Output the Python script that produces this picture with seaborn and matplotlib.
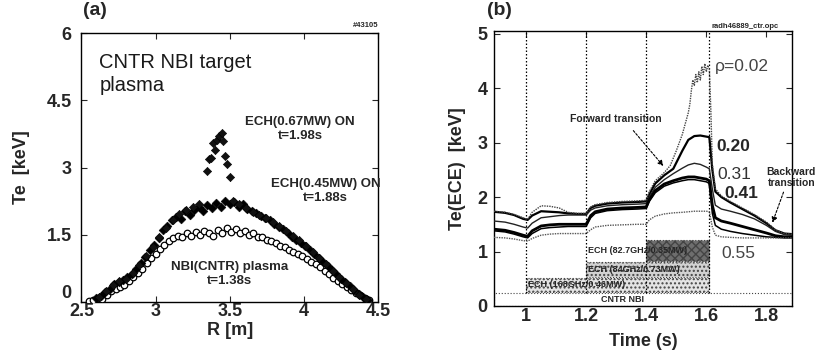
import matplotlib
matplotlib.use("Agg")
import matplotlib.pyplot as plt
import seaborn as sns

sns.set_style("ticks")
plt.rcParams["font.family"] = ["Liberation Sans", "DejaVu Sans"]

# ---------------- (a) electron temperature profiles ----------------
r_nbi = [2.55, 2.58, 2.61, 2.64, 2.67, 2.70, 2.73, 2.76, 2.79, 2.82, 2.85, 2.88, 2.91, 2.94, 2.97, 3.00,
         3.03, 3.06, 3.09, 3.12, 3.15, 3.18, 3.21, 3.24, 3.27, 3.30, 3.33, 3.36, 3.39, 3.42, 3.45, 3.48,
         3.51, 3.54, 3.57, 3.60, 3.63, 3.66, 3.69, 3.72, 3.75, 3.78, 3.81, 3.84, 3.87, 3.90, 3.93, 3.96,
         3.99, 4.02, 4.05, 4.08, 4.11, 4.14, 4.17, 4.20, 4.23, 4.26, 4.29, 4.32, 4.35, 4.38, 4.41, 4.44]
te_nbi = [0.03, 0.05, 0.08, 0.06, 0.15, 0.24, 0.28, 0.34, 0.38, 0.46, 0.55, 0.64, 0.74, 0.86, 0.98, 1.08,
          1.18, 1.28, 1.35, 1.42, 1.48, 1.44, 1.53, 1.47, 1.56, 1.49, 1.58, 1.53, 1.47, 1.60, 1.55, 1.64,
          1.57, 1.62, 1.54, 1.58, 1.50, 1.54, 1.45, 1.44, 1.39, 1.35, 1.31, 1.26, 1.22, 1.17, 1.12, 1.07,
          1.02, 0.97, 0.90, 0.84, 0.77, 0.70, 0.62, 0.54, 0.47, 0.40, 0.34, 0.27, 0.21, 0.15, 0.09, 0.04]

r_ech45 = [2.60, 2.63, 2.66, 2.69, 2.72, 2.75, 2.78, 2.81, 2.84, 2.87, 2.90, 2.93, 2.96, 2.99, 3.02, 3.05,
           3.08, 3.11, 3.14, 3.17, 3.20, 3.23, 3.26, 3.29, 3.32, 3.35, 3.38, 3.41, 3.44, 3.47, 3.50, 3.53,
           3.56, 3.59, 3.62, 3.65, 3.68, 3.71, 3.74, 3.77, 3.80, 3.83, 3.86, 3.89, 3.92, 3.95, 3.98, 4.01,
           4.04, 4.07, 4.10, 4.13, 4.16, 4.19, 4.22, 4.25, 4.28, 4.31, 4.34, 4.37, 4.40, 4.43]
te_ech45 = [0.08, 0.14, 0.22, 0.30, 0.40, 0.44, 0.50, 0.56, 0.62, 0.74, 0.88, 1.00, 1.15, 1.28, 1.42, 1.60,
            1.70, 1.82, 1.90, 1.86, 2.02, 1.95, 2.06, 2.12, 2.04, 2.16, 2.10, 2.20, 2.12, 2.25, 2.18, 2.22,
            2.12, 2.18, 2.08, 2.02, 1.98, 1.92, 1.88, 1.82, 1.75, 1.68, 1.62, 1.54, 1.46, 1.38, 1.32, 1.25,
            1.16, 1.07, 0.98, 0.89, 0.80, 0.71, 0.62, 0.52, 0.44, 0.36, 0.27, 0.18, 0.12, 0.05]

r_ech67 = [2.62, 2.665, 2.71, 2.755, 2.80, 2.845, 2.89, 2.935, 2.98, 3.025, 3.07, 3.115, 3.16, 3.205, 3.25, 3.295,
           3.345, 3.36, 3.375, 3.385, 3.40, 3.415, 3.43, 3.445, 3.455, 3.47, 3.485, 3.50,
           3.52, 3.565, 3.61, 3.655, 3.70, 3.745, 3.79, 3.835, 3.88, 3.925, 3.97, 4.015, 4.06, 4.105,
           4.15, 4.195, 4.24, 4.285, 4.33, 4.375, 4.42]
te_ech67 = [0.12, 0.25, 0.38, 0.46, 0.52, 0.64, 0.82, 1.02, 1.22, 1.45, 1.66, 1.84, 1.96, 2.05, 2.12, 2.18,
            2.93, 3.18, 3.22, 3.55, 3.40, 3.62, 3.70, 3.76, 3.60, 3.25, 3.08, 2.78,
            2.25, 2.18, 2.10, 2.00, 1.95, 1.88, 1.78, 1.70, 1.58, 1.48, 1.38, 1.26, 1.12, 0.98,
            0.84, 0.70, 0.55, 0.42, 0.28, 0.16, 0.06]

a_xticks = [2.5, 3.0, 3.5, 4.0, 4.5]
a_xticklabels = ["2.5", "3", "3.5", "4", "4.5"]
a_yticks = [0, 1.5, 3, 4.5, 6]
a_yticklabels = ["0", "1.5", "3", "4.5", "6"]

# ---------------- (b) ECE time traces ----------------
t_core = [0.893, 0.93, 0.96, 0.99, 1.005, 1.02, 1.05, 1.08, 1.11, 1.14, 1.17, 1.2, 1.215, 1.23, 1.27, 1.32,
          1.37, 1.4, 1.41, 1.43, 1.46, 1.48, 1.50, 1.52, 1.53, 1.54, 1.545, 1.55, 1.555, 1.56, 1.565, 1.57,
          1.575, 1.58, 1.585, 1.59, 1.595, 1.60, 1.605, 1.61, 1.615, 1.62, 1.63, 1.65, 1.68, 1.72, 1.76,
          1.8, 1.83, 1.86, 1.885]
te_rho002 = [1.74, 1.72, 1.68, 1.62, 1.59, 1.72, 1.84, 1.83, 1.80, 1.72, 1.70, 1.70, 1.82, 1.86, 1.90, 1.92,
             1.93, 1.94, 2.10, 2.30, 2.45, 2.58, 2.85, 3.15, 3.35, 3.55, 3.70, 3.95, 4.15, 4.05, 4.25, 4.10,
             4.30, 4.15, 4.40, 4.25, 4.45, 4.30, 4.42, 4.35, 3.60, 2.60, 2.15, 2.02, 1.92, 1.80, 1.68,
             1.54, 1.40, 1.33, 1.32]

t_ece = [0.893, 0.93, 0.96, 0.99, 1.005, 1.02, 1.05, 1.08, 1.11, 1.14, 1.17, 1.2, 1.215, 1.23, 1.27, 1.32,
         1.37, 1.4, 1.41, 1.43, 1.46, 1.49, 1.52, 1.54, 1.56, 1.58, 1.6, 1.61, 1.62, 1.63, 1.65, 1.68,
         1.72, 1.76, 1.8, 1.83, 1.86, 1.885]
te_rho020 = [1.73, 1.71, 1.67, 1.60, 1.58, 1.66, 1.74, 1.73, 1.72, 1.70, 1.69, 1.69, 1.80, 1.84, 1.88, 1.90,
             1.91, 1.92, 2.05, 2.25, 2.40, 2.52, 2.85, 3.05, 3.12, 3.13, 3.11, 3.10, 2.50, 2.10, 2.00, 1.90,
             1.78, 1.66, 1.52, 1.39, 1.33, 1.32]
te_rho031 = [1.56, 1.54, 1.50, 1.45, 1.43, 1.52, 1.62, 1.64, 1.66, 1.67, 1.67, 1.67, 1.76, 1.80, 1.84, 1.86,
             1.87, 1.88, 2.00, 2.18, 2.32, 2.43, 2.53, 2.59, 2.62, 2.60, 2.55, 2.52, 2.15, 1.85, 1.78, 1.74,
             1.68, 1.60, 1.48, 1.37, 1.31, 1.30]
te_rho041 = [1.41, 1.39, 1.35, 1.30, 1.28, 1.38, 1.47, 1.49, 1.50, 1.50, 1.50, 1.50, 1.66, 1.73, 1.78, 1.80,
             1.81, 1.82, 1.95, 2.12, 2.24, 2.30, 2.35, 2.37, 2.37, 2.35, 2.33, 2.30, 1.85, 1.62, 1.56, 1.52,
             1.46, 1.40, 1.34, 1.29, 1.27, 1.27]
te_rho048 = [1.38, 1.36, 1.32, 1.27, 1.25, 1.33, 1.42, 1.44, 1.45, 1.46, 1.46, 1.46, 1.62, 1.70, 1.75, 1.77,
             1.78, 1.79, 1.92, 2.08, 2.20, 2.26, 2.30, 2.32, 2.32, 2.30, 2.28, 2.25, 1.70, 1.48, 1.41, 1.37,
             1.33, 1.30, 1.27, 1.26, 1.25, 1.25]
te_rho055 = [1.26, 1.25, 1.23, 1.20, 1.19, 1.24, 1.30, 1.32, 1.33, 1.33, 1.33, 1.33, 1.40, 1.45, 1.48, 1.49,
             1.50, 1.50, 1.58, 1.65, 1.69, 1.71, 1.72, 1.73, 1.74, 1.74, 1.74, 1.73, 1.45, 1.30, 1.27, 1.26,
             1.25, 1.25, 1.25, 1.25, 1.25, 1.25]

heating_labels = ["CNTR NBI", "ECH (168GHz/0.46MW)", "ECH (84GHz/0.73MW)", "ECH (82.7GHz/0.35MW)"]
heating_start = [0.893, 1.0, 1.2, 1.4]
heating_end = [1.885, 1.61, 1.61, 1.61]
phase_times = [1.0, 1.2, 1.4, 1.61]

b_xticks = [1.0, 1.2, 1.4, 1.6, 1.8]
b_xticklabels = ["1", "1.2", "1.4", "1.6", "1.8"]
b_yticks = [0, 1, 2, 3, 4, 5]
b_yticklabels = ["0", "1", "2", "3", "4", "5"]

# ---------------- figure ----------------
fig = plt.figure(figsize=(8.27, 3.58), dpi=100)
axA = fig.add_axes([0.0985, 0.1564, 0.3585, 0.7514])
axB = fig.add_axes([0.5973, 0.1453, 0.3603, 0.7682])

tick_font = dict(fontsize=13, fontweight="bold")
label_font = dict(fontsize=13, fontweight="bold")
note_col = "#262626"

# profiles
sns.scatterplot(x=r_nbi, y=te_nbi, ax=axA, marker="o", s=22, facecolor="white",
                edgecolor="black", linewidth=0.9, zorder=3)
sns.scatterplot(x=r_ech45, y=te_ech45, ax=axA, marker="D", s=20, color="black",
                edgecolor="black", linewidth=0.4, zorder=4)
axA.errorbar(r_ech67, te_ech67, yerr=0.07, fmt="none", ecolor="#333333", elinewidth=0.6, zorder=4)
sns.scatterplot(x=r_ech67, y=te_ech67, ax=axA, marker="D", s=18, color="#111111",
                edgecolor="black", linewidth=0.4, zorder=5)

axA.set_xlim(2.5, 4.5)
axA.set_ylim(0, 6)
axA.set_xticks(a_xticks)
axA.set_xticklabels(a_xticklabels, **tick_font)
axA.set_yticks(a_yticks)
axA.set_yticklabels(a_yticklabels, **tick_font)
axA.tick_params(axis="both", direction="in", top=True, right=True, length=4, width=0.8)
axA.tick_params(axis="x", pad=0.5)
axA.tick_params(axis="y", pad=7)
# the zero label sits just above the corner so it clears the first R label
axA.get_yticklabels()[0].set_verticalalignment("bottom")
axA.set_xlabel("R [m]", labelpad=2, **label_font)
axA.set_ylabel("Te  [keV]", labelpad=12, **label_font)

axA.text(2.62, 5.55, "CNTR NBI target\nplasma", ha="left", va="top", fontsize=14.5,
         linespacing=1.25, color="#1a1a1a")
axA.text(3.975, 3.85, "ECH(0.67MW) ON\nt=1.98s", ha="center", va="center", fontsize=9.5,
         fontweight="bold", color=note_col, linespacing=1.2)
axA.text(4.145, 2.48, "ECH(0.45MW) ON\nt=1.88s", ha="center", va="center", fontsize=9.5,
         fontweight="bold", color=note_col, linespacing=1.2, clip_on=False)
axA.text(3.497, 0.62, "NBI(CNTR) plasma\nt=1.38s", ha="center", va="center", fontsize=9.5,
         fontweight="bold", color=note_col, linespacing=1.2)
axA.text(1.0, 1.015, "#43105", transform=axA.transAxes, ha="right", va="bottom",
         fontsize=5.5, fontweight="bold")

# heating bars
bar_y = [0.12, 0.39, 0.67, 1.02]
bar_h = [0.24, 0.26, 0.26, 0.40]
bar_face = ["white", "#e4e4e4", "#d2d2d2", "#6e6e6e"]
bar_hatch = [None, "....", "....", "xxxx"]
for lab, t0, t1, yc, h, fc, ht in zip(heating_labels, heating_start, heating_end,
                                      bar_y, bar_h, bar_face, bar_hatch):
    axB.barh(yc, t1 - t0, left=t0, height=h, color=fc, edgecolor="#444444",
             linewidth=0.8, linestyle=":", hatch=ht, zorder=1)
axB.text(1.32, 0.12, heating_labels[0], ha="center", va="center", fontsize=6.5, fontweight="bold")
axB.text(1.005, 0.39, heating_labels[1], ha="left", va="center", fontsize=6.5, fontweight="bold")
axB.text(1.205, 0.67, heating_labels[2], ha="left", va="center", fontsize=6.5, fontweight="bold")
axB.text(1.205, 1.02, heating_labels[3], ha="left", va="center", fontsize=6.5, fontweight="bold")

axB.vlines(phase_times, 0.24, 5.05, colors="black", linestyles=(0, (1.2, 1.6)), linewidth=0.9, zorder=2)

# ECE traces
trace_style = [
    (t_ece, te_rho020, "black", 1.6, "-"),
    (t_ece, te_rho031, "#222222", 1.0, "-"),
    (t_ece, te_rho041, "black", 2.0, "-"),
    (t_ece, te_rho048, "black", 1.1, "-"),
    (t_ece, te_rho055, "#555555", 1.0, (0, (1, 0.8))),
    (t_core, te_rho002, "#444444", 1.0, (0, (1, 0.8))),
]
for tt, yy, col, lw, ls in trace_style:
    sns.lineplot(x=tt, y=yy, ax=axB, color=col, linewidth=lw, linestyle=ls,
                 estimator=None, sort=False, zorder=3)

axB.set_xlim(0.893, 1.885)
axB.set_ylim(0, 5.05)
axB.set_xticks(b_xticks)
axB.set_xticklabels(b_xticklabels, **tick_font)
axB.set_yticks(b_yticks)
axB.set_yticklabels(b_yticklabels, **tick_font)
axB.tick_params(axis="both", direction="in", top=True, right=True, length=4, width=0.8)
axB.tick_params(axis="x", pad=1.5)
axB.tick_params(axis="y", pad=4.5)
axB.set_xlabel("Time (s)", labelpad=6, **label_font)
axB.set_ylabel("Te(ECE)  [keV]", labelpad=8, **label_font)

axB.text(1.628, 4.40, "\u03c1=0.02", ha="left", va="center", fontsize=12.5, color="#444444")
axB.text(1.635, 2.93, "0.20", ha="left", va="center", fontsize=12.5, fontweight="bold")
axB.text(1.638, 2.42, "0.31", ha="left", va="center", fontsize=12.5, color="#333333")
axB.text(1.661, 2.06, "0.41", ha="left", va="center", fontsize=12.5, fontweight="bold")
axB.text(1.651, 0.97, "0.55", ha="left", va="center", fontsize=12.5, color="#444444")

axB.text(1.297, 3.43, "Forward transition", ha="center", va="center", fontsize=7.5, fontweight="bold")
axB.annotate("", xy=(1.457, 2.57), xytext=(1.357, 3.22),
             arrowprops=dict(arrowstyle="-|>", color="black", lw=0.8, linestyle=(0, (2, 1.5)),
                             mutation_scale=8, shrinkA=0, shrinkB=0))
axB.text(1.883, 2.36, "Backward\ntransition", ha="center", va="center", fontsize=7.5,
         fontweight="bold", linespacing=1.1, clip_on=False)
axB.annotate("", xy=(1.82, 1.53), xytext=(1.857, 2.09),
             arrowprops=dict(arrowstyle="-|>", color="black", lw=0.8, linestyle=(0, (2, 1.5)),
                             mutation_scale=8, shrinkA=0, shrinkB=0))
axB.text(0.842, 1.005, "radh46889_ctr.opc", transform=axB.transAxes, ha="center", va="bottom",
         fontsize=5.5, fontweight="bold")

for ax in (axA, axB):
    for sp in ax.spines.values():
        sp.set_linewidth(1.0)
        sp.set_color("black")

fig.text(0.100, 0.972, "(a)", ha="left", va="center", fontsize=14, fontweight="bold")
fig.text(0.589, 0.972, "(b)", ha="left", va="center", fontsize=14, fontweight="bold")

fig.savefig("out.png", dpi=100, facecolor="white")
